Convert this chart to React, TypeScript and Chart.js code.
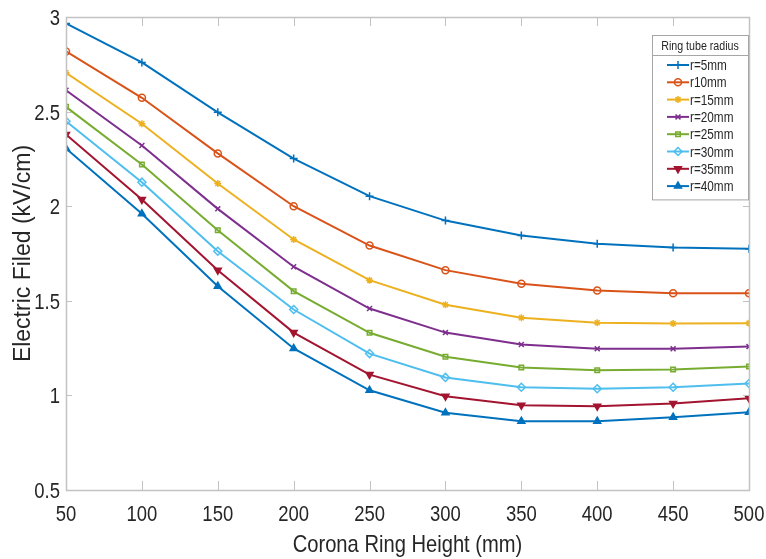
import React, { useEffect, useRef } from "react";
import { Chart, registerables } from "chart.js";
import { drawPoint } from "chart.js/helpers";

Chart.register(...registerables);

const heights = [50, 100, 150, 200, 250, 300, 350, 400, 450, 500];
const seriesLabels = ["r=5mm", "r10mm", "r=15mm", "r=20mm", "r=25mm", "r=30mm", "r=35mm", "r=40mm"];
const r5 = [2.966, 2.76, 2.496, 2.252, 2.053, 1.924, 1.845, 1.801, 1.782, 1.775];
const r10 = [2.818, 2.573, 2.279, 2.0, 1.792, 1.662, 1.59, 1.554, 1.54, 1.54];
const r15 = [2.705, 2.436, 2.12, 1.824, 1.609, 1.479, 1.41, 1.384, 1.38, 1.382];
const r20 = [2.613, 2.321, 1.986, 1.68, 1.459, 1.332, 1.269, 1.246, 1.246, 1.258];
const r25 = [2.525, 2.22, 1.873, 1.551, 1.331, 1.204, 1.147, 1.133, 1.137, 1.153];
const r30 = [2.449, 2.127, 1.762, 1.454, 1.221, 1.095, 1.043, 1.035, 1.043, 1.063];
const r35 = [2.379, 2.035, 1.662, 1.332, 1.11, 0.996, 0.948, 0.943, 0.957, 0.985];
const r40 = [2.305, 1.96, 1.577, 1.248, 1.027, 0.908, 0.864, 0.864, 0.885, 0.911];
const allSeries = [r5, r10, r15, r20, r25, r30, r35, r40];
const colors = ["#0072BD", "#D95319", "#EDB120", "#7E2F8E", "#77AC30", "#4DBEEE", "#A2142F", "#0072BD"];
const styles = ["cross", "circle", "star", "crossRot", "rect", "rectRot", "triangle", "triangle"];
const rotations = [0, 0, 0, 0, 0, 0, 180, 0];
const filled = [false, false, true, false, false, false, true, true];
const radii = [4, 3.5, 3.5, 3.5, 3.2, 4, 4, 4];
const legendTitle = "Ring tube radius";
const xTitle = "Corona Ring Height (mm)";
const yTitle = "Electric Filed (kV/cm)";

const REGULAR = "'Liberation Sans', Arial, sans-serif";
const TEXT = "#262626";
const AXIS = "#c2c2c2";
const SQUEEZE = 0.84;

function narrowText(ctx: any, text: string, x: number, y: number, size: number, align: "left" | "center" | "right", sx = SQUEEZE) {
  ctx.save();
  ctx.font = `${size}px ${REGULAR}`;
  ctx.textAlign = align;
  ctx.textBaseline = "alphabetic";
  ctx.translate(x, y);
  ctx.scale(sx, 1);
  ctx.fillText(text, 0, 0);
  ctx.restore();
}

const boxPlugin = {
  id: "matlabBox",
  afterDraw(chart: any) {
    const { ctx, chartArea: a, scales } = chart;
    ctx.save();
    ctx.strokeStyle = AXIS;
    ctx.lineWidth = 1.5;
    ctx.strokeRect(Math.round(a.left) + 0.5, Math.round(a.top) + 0.5, Math.round(a.right - a.left), Math.round(a.bottom - a.top));
    ctx.lineWidth = 1;
    ctx.beginPath();
    scales.x.ticks.forEach((t: any) => {
      const px = Math.round(scales.x.getPixelForValue(t.value)) + 0.5;
      ctx.moveTo(px, a.bottom);
      ctx.lineTo(px, a.bottom - 9);
      ctx.moveTo(px, a.top);
      ctx.lineTo(px, a.top + 9);
    });
    scales.y.ticks.forEach((t: any) => {
      const py = Math.round(scales.y.getPixelForValue(t.value)) + 0.5;
      ctx.moveTo(a.left, py);
      ctx.lineTo(a.left + 6, py);
      ctx.moveTo(a.right, py);
      ctx.lineTo(a.right - 6, py);
    });
    ctx.stroke();

    // tick labels and x title (condensed, as in the original)
    ctx.fillStyle = TEXT;
    scales.x.ticks.forEach((t: any) => {
      const px = scales.x.getPixelForValue(t.value);
      narrowText(ctx, String(t.value), px, a.bottom + 31, 22, "center");
    });
    scales.y.ticks.forEach((t: any) => {
      const py = scales.y.getPixelForValue(t.value);
      narrowText(ctx, String(t.value), a.left - 6, py + 8, 22, "right");
    });
    narrowText(ctx, xTitle, (a.left + a.right) / 2, 552, 24, "center");

    // legend
    const lx = 652, ly = 35, lw = 96, headH = 20, rowH = 17.3;
    const lh = headH + rowH * seriesLabels.length + 6;
    ctx.fillStyle = "#ffffff";
    ctx.fillRect(lx, ly, lw, lh);
    ctx.strokeStyle = "#a6a6a6";
    ctx.lineWidth = 1;
    ctx.strokeRect(lx + 0.5, ly + 0.5, lw, lh);
    ctx.beginPath();
    ctx.moveTo(lx, ly + headH + 0.5);
    ctx.lineTo(lx + lw, ly + headH + 0.5);
    ctx.stroke();
    ctx.fillStyle = TEXT;
    narrowText(ctx, legendTitle, lx + lw / 2, ly + headH / 2 + 5, 13, "center", 0.82);
    seriesLabels.forEach((lab, i) => {
      const cy = ly + headH + 10 + i * rowH;
      ctx.strokeStyle = colors[i];
      ctx.lineWidth = 2;
      ctx.beginPath();
      ctx.moveTo(667, cy);
      ctx.lineTo(689, cy);
      ctx.stroke();
      ctx.lineWidth = 1.5;
      ctx.fillStyle = filled[i] ? colors[i] : "rgba(0,0,0,0)";
      drawPoint(ctx, { pointStyle: styles[i], radius: radii[i], rotation: rotations[i], borderWidth: 1.5 } as any, 678, cy);
      ctx.fillStyle = TEXT;
      narrowText(ctx, lab, 690, cy + 5, 14, "left", 0.84);
    });
    ctx.restore();
  },
};

export default function App() {
  const ref = useRef<HTMLCanvasElement>(null);
  useEffect(() => {
    document.body.style.margin = "0";
    const chart = new Chart(ref.current!, {
      type: "line",
      data: {
        datasets: allSeries.map((vals, i) => ({
          label: seriesLabels[i],
          data: heights.map((h, j) => ({ x: h, y: vals[j] })),
          borderColor: colors[i],
          backgroundColor: filled[i] ? colors[i] : "rgba(0,0,0,0)",
          borderWidth: 2,
          pointStyle: styles[i] as any,
          pointRadius: radii[i],
          pointRotation: rotations[i],
          pointBorderWidth: 1.5,
          pointBorderColor: colors[i],
          pointBackgroundColor: filled[i] ? colors[i] : "rgba(0,0,0,0)",
          fill: false,
          tension: 0,
        })),
      },
      options: {
        responsive: false,
        animation: false,
        devicePixelRatio: 1,
        layout: { padding: { top: 17, right: 17, left: 0, bottom: 0 } },
        plugins: { legend: { display: false }, tooltip: { enabled: false } },
        scales: {
          x: {
            type: "linear",
            min: 50,
            max: 500,
            grid: { display: false },
            border: { display: false },
            afterFit: (s: any) => { s.height = 69; },
            ticks: { stepSize: 50, display: false },
          },
          y: {
            type: "linear",
            min: 0.5,
            max: 3,
            grid: { display: false },
            border: { display: false },
            afterFit: (s: any) => { s.width = 66; },
            ticks: { stepSize: 0.5, display: false },
            title: { display: true, text: yTitle, color: TEXT, font: { family: REGULAR, size: 23 }, padding: { top: 10, bottom: 0 } },
          },
        },
      },
      plugins: [boxPlugin],
    });
    return () => chart.destroy();
  }, []);
  return <canvas ref={ref} width={766} height={559} style={{ display: "block", width: 766, height: 559 }} />;
}
